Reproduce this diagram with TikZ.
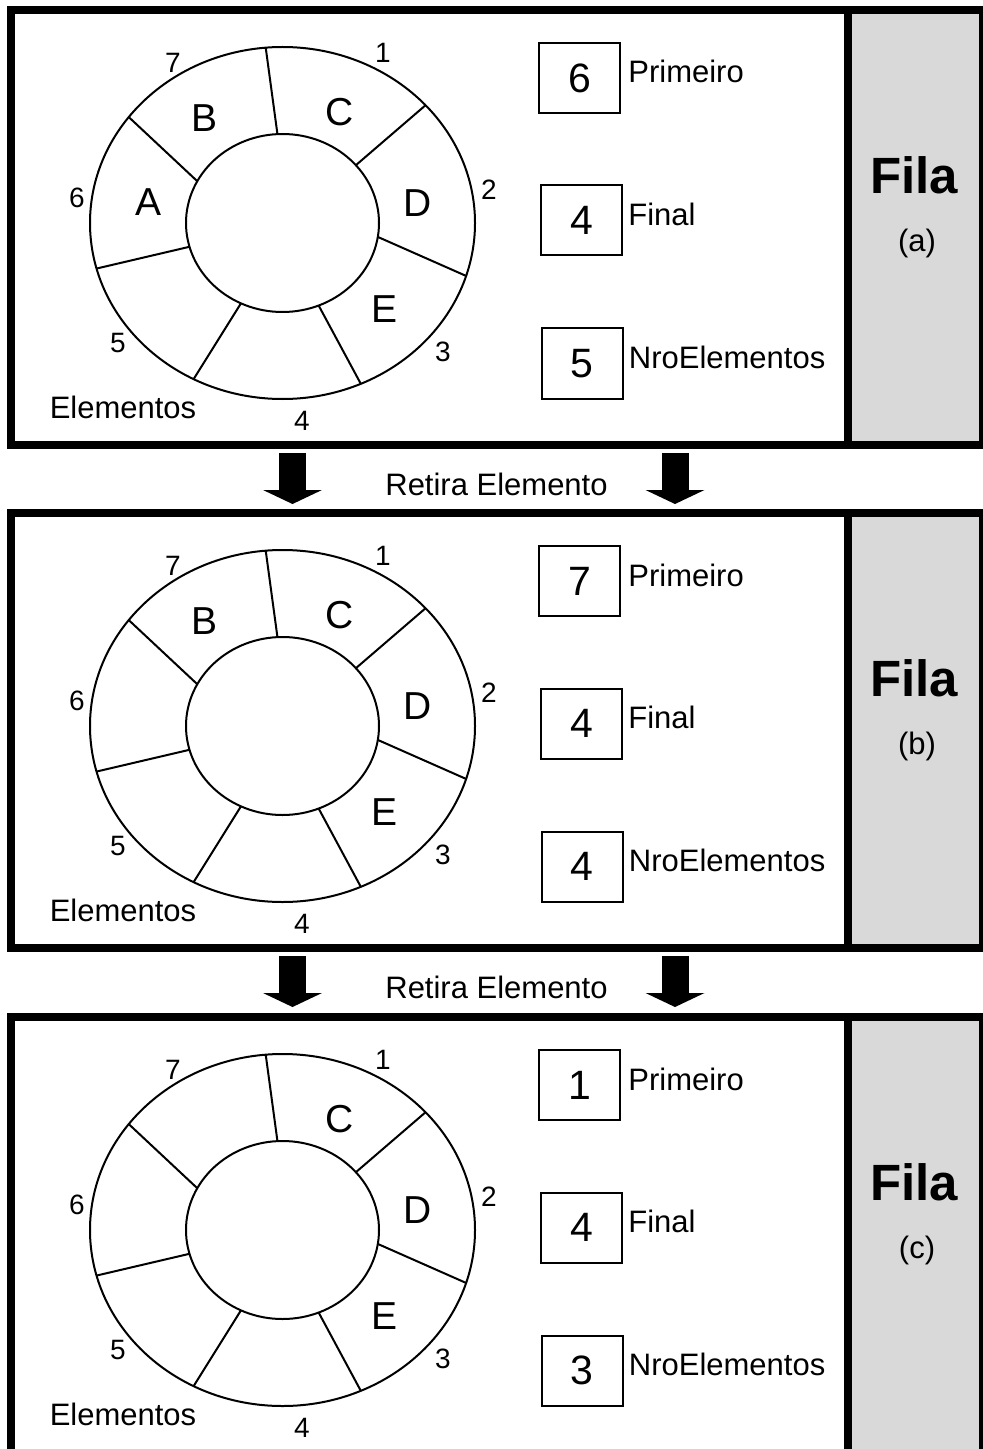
\documentclass[tikz,border=0pt]{standalone}
\usepackage{fontspec}
\setmainfont{Liberation Sans}
\usetikzlibrary{arrows.meta,calc}
\definecolor{panelgray}{RGB}{217,217,217}
\tikzset{
  frame/.style = {line width=4pt},
  ring/.style = {line width=1pt},
  cell/.style = {font=\fontsize{19.5}{20}\selectfont},
  slot/.style = {font=\fontsize{14}{15}\selectfont},
  lbl/.style = {font=\fontsize{15.5}{16}\selectfont, inner sep=0pt},
  valbox/.style = {draw, line width=1pt, minimum width=40.5pt, minimum height=35pt,
                   inner sep=0pt, font=\fontsize{20.5}{21}\selectfont},
  ttl/.style = {font=\bfseries\fontsize{25.5}{26}\selectfont},
  bigarrow/.style = {line width=13.5pt, -{Triangle[length=7pt,width=29.5pt,line width=0pt]}}
}
\begin{document}
\begin{tikzpicture}[x=0.5pt,y=-0.5pt]
\useasboundingbox (0,0) rectangle (983,1449);
\foreach \p/\off/\bot/\first/\last/\cnt in {a/0/445/6/4/5, b/503/445/7/4/4, c/1007/450/1/4/3}{
              %frame and side panel
\fill [panelgray] (848,10+\off) rectangle (983,\bot+\off);
\draw [frame] (11,10+\off) rectangle (983,\bot+\off);
\draw [frame] (848,10+\off) -- (848,\bot+\off);
\node [ttl] (fila\p) at (914,175+\off) {Fila};
\node [lbl] (tag\p) at (917,243+\off) {(\p)};
              %circular buffer
\coordinate (c\p) at (282.5,223+\off);
\draw [ring] (c\p) ellipse [x radius=192.5, y radius=176];
\draw [ring] (c\p) ellipse [x radius=96.5, y radius=89];
\foreach \i/\o in {-93/-95, -40.5/-42, 9/17.5, 68/66, 115.5/117.5, 164.5/165, -152/-143}{
\draw [ring] ($(c\p)+(\i:96.5 and 89)$) -- ($(c\p)+(\o:192.5 and 176)$);
}
\node [cell] (C\p) at (340,112+\off) {C};
\node [cell] (D\p) at (418,203+\off) {D};
\node [cell] (E\p) at (385,309+\off) {E};
              %slot numbers
\node [slot] (n1\p) at (383,53+\off) {1};
\node [slot] (n2\p) at (489,190+\off) {2};
\node [slot] (n3\p) at (443,352+\off) {3};
\node [slot] (n4\p) at (302,421+\off) {4};
\node [slot] (n5\p) at (118,343+\off) {5};
\node [slot] (n6\p) at (77,198+\off) {6};
\node [slot] (n7\p) at (173,63+\off) {7};
\node [lbl] (elem\p) at (123,407+\off) {Elementos};
              %control fields
\node [valbox] (prim\p) at (579.5,78+\off) {\first};
\node [valbox] (fin\p) at (581.5,220.5+\off) {\last};
\node [valbox] (nro\p) at (582,363.5+\off) {\cnt};
\node [lbl, anchor=base west] (primlbl\p) at ([xshift=3.5pt,yshift=-2.5pt]prim\p.east) {Primeiro};
\node [lbl, anchor=base west] (finlbl\p) at ([xshift=2.5pt,yshift=-2.5pt]fin\p.east) {Final};
\node [lbl, anchor=base west] (nrolbl\p) at ([xshift=2.5pt,yshift=-2.5pt]nro\p.east) {NroElementos};
}
              %remaining elements
\foreach \p/\off in {a/0, b/503}{
\node [cell] (B\p) at (205,118+\off) {B};
}
\node [cell] (Aa) at (149,202) {A};
              %transitions
\foreach \p/\off in {a/0, b/503}{
\coordinate (l\p) at (292.5,453+\off);
\coordinate (lt\p) at (292.5,504+\off);
\coordinate (r\p) at (675,453+\off);
\coordinate (rt\p) at (675,504+\off);
\draw [bigarrow] (l\p) -- (lt\p);
\draw [bigarrow] (r\p) -- (rt\p);
\node [lbl] (op\p) at (496.5,484+\off) {Retira Elemento};
}
\end{tikzpicture}
\end{document}
